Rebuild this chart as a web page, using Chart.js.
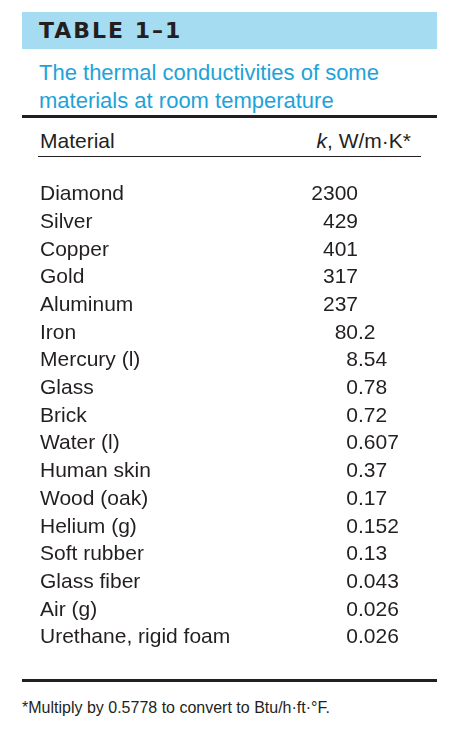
<!DOCTYPE html>
<html>
<head>
<meta charset="utf-8">
<script src="https://cdn.jsdelivr.net/npm/chart.js@4"></script>
<style>
  body { margin: 0; background: #fff; font-family: "Liberation Sans", Arial, sans-serif; color: #231f20; }
  #wrap { position: relative; width: 453px; height: 753px; }
  .head { position: absolute; left: 22px; top: 12px; width: 415px; height: 37px; background: #a6dcf2; }
  .head span { position: absolute; left: 17px; top: 6px; font: bold 22px "DejaVu Sans", sans-serif; letter-spacing: 2px; }
  .sub { position: absolute; left: 39px; top: 59px; font-size: 22px; line-height: 28px; color: #1ea3d8; }
  .rule { position: absolute; left: 22px; width: 415px; background: #231f20; }
  .th { position: absolute; top: 129px; font-size: 21px; }
  .foot { position: absolute; left: 22px; top: 699px; font-size: 16px; }
  #box { position: absolute; left: 22px; top: 168px; width: 415px; height: 496px; }
</style>
</head>
<body>
<div id="wrap">
  <div class="head"><span>TABLE 1–1</span></div>
  <div class="sub">The thermal conductivities of some<br>materials at room temperature</div>
  <div class="rule" style="top:115px;height:3px"></div>
  <div class="th" style="left:40px">Material</div>
  <div class="th" style="right:42px"><i>k</i>, W/m·K*</div>
  <div class="rule" style="top:156px;height:1px;left:38px;width:383px"></div>
  <div id="box"><canvas id="tbl" width="415" height="496"></canvas></div>
  <div class="rule" style="top:679px;height:3px"></div>
  <div class="foot">*Multiply by 0.5778 to convert to Btu/h·ft·°F.</div>
</div>
<script>
const materials = ["Diamond", "Silver", "Copper", "Gold", "Aluminum", "Iron", "Mercury (l)", "Glass",
  "Brick", "Water (l)", "Human skin", "Wood (oak)", "Helium (g)", "Soft rubber", "Glass fiber",
  "Air (g)", "Urethane, rigid foam"];
const kLabels = ["2300", "429", "401", "317", "237", "80.2", "8.54", "0.78", "0.72", "0.607", "0.37",
  "0.17", "0.152", "0.13", "0.043", "0.026", "0.026"];
const kValues = kLabels.map(Number);

const font = '"Liberation Sans", Arial, sans-serif';

// draws the k column aligned on the decimal point
const valueText = {
  id: "valueText",
  afterDatasetsDraw(chart) {
    const c = chart.ctx;
    const meta = chart.getDatasetMeta(0);
    const dotX = 336; // relative to canvas
    c.save();
    c.font = "21px " + font;
    c.fillStyle = "#231f20";
    c.textBaseline = "middle";
    meta.data.forEach((el, i) => {
      const parts = kLabels[i].split(".");
      c.textAlign = "right";
      c.fillText(parts[0], dotX, el.y);
      if (parts[1]) {
        c.textAlign = "left";
        c.fillText("." + parts[1], dotX, el.y);
      }
    });
    c.restore();
  }
};

new Chart(document.getElementById("tbl"), {
  type: "bar",
  data: { labels: materials, datasets: [{ data: kValues, backgroundColor: "rgba(0,0,0,0)" }] },
  options: {
    indexAxis: "y",
    responsive: false,
    animation: false,
    layout: { padding: { top: 0, bottom: 0, left: 18 } },
    plugins: { legend: { display: false }, tooltip: { enabled: false } },
    scales: {
      x: { type: "logarithmic", display: false },
      y: {
        grid: { display: false },
        border: { display: false },
        afterFit(s) { s.width = 240; },
        ticks: { crossAlign: "far", padding: 0, color: "#231f20", font: { family: font, size: 21 } }
      }
    }
  },
  plugins: [valueText]
});
</script>
</body>
</html>
